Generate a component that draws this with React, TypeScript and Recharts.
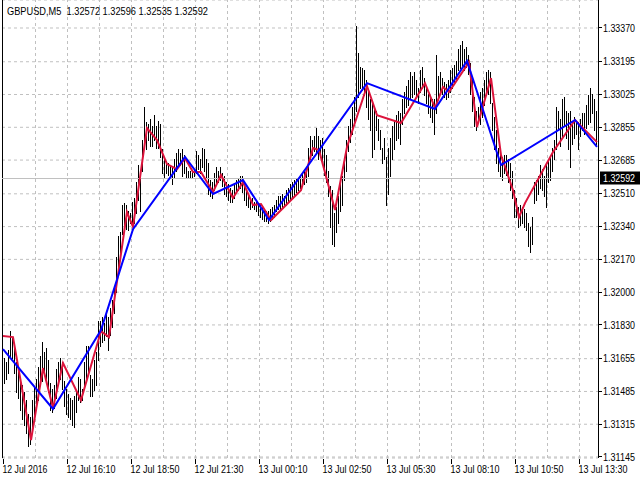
import React from 'react';
import { ComposedChart, Bar, Line, XAxis, YAxis, CartesianGrid, ReferenceLine } from 'recharts';

const symbolTitle = 'GBPUSD,M5';
const lastBarOHLC = ['1.32572', '1.32596', '1.32535', '1.32592'];
const bidPrice = 1.32592;

const barHigh = [
  1.3165, 1.3166, 1.3164, 1.317, 1.318, 1.3176, 1.3171, 1.3164, 1.3161, 1.3154,
  1.3152, 1.3148, 1.3144, 1.3137, 1.3135, 1.3144, 1.3151, 1.3155, 1.3161, 1.3167,
  1.3174, 1.3169, 1.3171, 1.3165, 1.3153, 1.315, 1.3152, 1.316, 1.3164, 1.3166,
  1.3164, 1.3154, 1.315, 1.3147, 1.3145, 1.3144, 1.3146, 1.3148, 1.3156, 1.3155,
  1.315, 1.3164, 1.3172, 1.3172, 1.3157, 1.3155, 1.3165, 1.3169, 1.3185, 1.3185,
  1.3187, 1.3184, 1.319, 1.3187, 1.3192, 1.3196, 1.3203, 1.3218, 1.3229, 1.3231,
  1.3245, 1.3246, 1.3245, 1.3242, 1.3241, 1.3247, 1.3249, 1.3257, 1.3266, 1.3262,
  1.3279, 1.3296, 1.3288, 1.3287, 1.329, 1.3286, 1.3292, 1.3286, 1.3289, 1.3287,
  1.3274, 1.3269, 1.3268, 1.3267, 1.3266, 1.3265, 1.3269, 1.3272, 1.3274, 1.3272,
  1.3274, 1.3271, 1.3265, 1.3263, 1.3263, 1.3263, 1.3264, 1.3273, 1.3271, 1.3269,
  1.3275, 1.3274, 1.3269, 1.3267, 1.3258, 1.3257, 1.3262, 1.3265, 1.3263, 1.3265,
  1.3262, 1.326, 1.3257, 1.3256, 1.3254, 1.3253, 1.3256, 1.3258, 1.3259, 1.326,
  1.326, 1.3256, 1.3253, 1.325, 1.3248, 1.3249, 1.3247, 1.3247, 1.3245, 1.3245,
  1.3244, 1.3243, 1.3242, 1.3242, 1.3243, 1.3244, 1.3245, 1.3248, 1.325, 1.325,
  1.3251, 1.325, 1.3253, 1.3254, 1.3256, 1.3257, 1.3258, 1.3259, 1.3258, 1.326,
  1.3262, 1.3263, 1.3265, 1.3275, 1.3281, 1.3279, 1.3281, 1.3285, 1.3281, 1.3279,
  1.328, 1.3274, 1.3271, 1.3263, 1.3255, 1.3253, 1.3241, 1.3244, 1.325, 1.3256,
  1.326, 1.327, 1.3279, 1.3286, 1.329, 1.3296, 1.3301, 1.3338, 1.3324, 1.3317,
  1.3316, 1.3315, 1.331, 1.3305, 1.33, 1.3298, 1.3296, 1.3294, 1.329, 1.3284,
  1.3275, 1.328, 1.327, 1.3275, 1.328, 1.3286, 1.3289, 1.3292, 1.3294, 1.3293,
  1.33, 1.3304, 1.3307, 1.331, 1.3314, 1.3312, 1.3314, 1.331, 1.3306, 1.3315,
  1.3317, 1.3311, 1.3307, 1.3303, 1.3301, 1.33, 1.33, 1.3323, 1.3312, 1.3314,
  1.3311, 1.3309, 1.3308, 1.331, 1.3315, 1.3316, 1.3318, 1.332, 1.3326, 1.3328,
  1.333, 1.3326, 1.3327, 1.3323, 1.3319, 1.331, 1.3301, 1.3294, 1.3296, 1.3304,
  1.3306, 1.331, 1.3314, 1.3315, 1.3314, 1.3298, 1.3291, 1.3284, 1.3275, 1.3273,
  1.327, 1.3271, 1.3271, 1.3269, 1.3267, 1.3263, 1.3253, 1.3249, 1.3244, 1.3245,
  1.3244, 1.3243, 1.3241, 1.3236, 1.3234, 1.3239, 1.3257, 1.3258, 1.326, 1.3266,
  1.3264, 1.326, 1.3267, 1.3269, 1.327, 1.3275, 1.3279, 1.3296, 1.3294, 1.329,
  1.33, 1.3301, 1.3294, 1.3293, 1.3294, 1.3289, 1.3291, 1.3289, 1.3288, 1.329,
  1.3293, 1.3293, 1.3297, 1.3302, 1.3306, 1.3303, 1.33, 1.3294,
];

const barLow = [
  1.3152, 1.3153, 1.3155, 1.3158, 1.3166, 1.3166, 1.3158, 1.3148, 1.3145, 1.3139,
  1.3134, 1.3131, 1.3127, 1.312, 1.3121, 1.3127, 1.3136, 1.3141, 1.3144, 1.3152,
  1.3154, 1.3158, 1.3155, 1.3148, 1.3139, 1.3138, 1.314, 1.3145, 1.3152, 1.3155,
  1.315, 1.3141, 1.3137, 1.3135, 1.3134, 1.3131, 1.313, 1.3138, 1.3144, 1.3143,
  1.3144, 1.3152, 1.3154, 1.3158, 1.3146, 1.3146, 1.3149, 1.3152, 1.3165, 1.3172,
  1.3174, 1.3175, 1.3177, 1.317, 1.3178, 1.3182, 1.3189, 1.32, 1.3213, 1.3218,
  1.323, 1.3231, 1.3233, 1.3232, 1.3236, 1.3236, 1.3236, 1.3241, 1.3248, 1.3242,
  1.3263, 1.3277, 1.3274, 1.3279, 1.3276, 1.3276, 1.3279, 1.3275, 1.3275, 1.327,
  1.3262, 1.3259, 1.3262, 1.3261, 1.326, 1.3256, 1.3259, 1.3263, 1.3265, 1.3266,
  1.326, 1.3262, 1.3259, 1.3259, 1.3259, 1.3259, 1.326, 1.3262, 1.3264, 1.3262,
  1.3265, 1.3263, 1.3259, 1.3251, 1.325, 1.3249, 1.3253, 1.3256, 1.3257, 1.3258,
  1.3255, 1.3251, 1.325, 1.3248, 1.3247, 1.3247, 1.3249, 1.3252, 1.3253, 1.3254,
  1.3252, 1.3248, 1.3245, 1.3244, 1.3243, 1.3244, 1.3243, 1.3242, 1.324, 1.3239,
  1.3238, 1.3237, 1.3237, 1.3236, 1.3237, 1.3238, 1.3239, 1.3242, 1.3243, 1.3243,
  1.3244, 1.3245, 1.3245, 1.3247, 1.3248, 1.3249, 1.325, 1.3252, 1.3253, 1.3254,
  1.3255, 1.3256, 1.3257, 1.326, 1.3269, 1.3271, 1.3273, 1.3272, 1.3269, 1.327,
  1.3267, 1.3261, 1.3257, 1.325, 1.3234, 1.3225, 1.3224, 1.3231, 1.3236, 1.3242,
  1.3245, 1.3258, 1.3263, 1.3273, 1.3278, 1.3282, 1.3288, 1.3294, 1.3301, 1.3306,
  1.3305, 1.3302, 1.3296, 1.329, 1.3284, 1.327, 1.3274, 1.3284, 1.3279, 1.3274,
  1.3267, 1.3269, 1.3245, 1.3251, 1.326, 1.3269, 1.3274, 1.3279, 1.328, 1.3277,
  1.3287, 1.3293, 1.3296, 1.3297, 1.33, 1.3301, 1.3303, 1.3301, 1.3298, 1.3304,
  1.3306, 1.3302, 1.3298, 1.3293, 1.3291, 1.3288, 1.3282, 1.3293, 1.3301, 1.3303,
  1.3303, 1.3301, 1.33, 1.3301, 1.3304, 1.3306, 1.3308, 1.331, 1.3315, 1.3316,
  1.3317, 1.3315, 1.3317, 1.3313, 1.3303, 1.3294, 1.3286, 1.3284, 1.3288, 1.3287,
  1.3291, 1.3297, 1.3302, 1.3303, 1.3298, 1.3284, 1.3274, 1.3267, 1.3263, 1.326,
  1.3258, 1.3262, 1.3261, 1.3257, 1.3253, 1.3249, 1.3239, 1.3239, 1.3234, 1.3235,
  1.3236, 1.3234, 1.3232, 1.3224, 1.3221, 1.3225, 1.3246, 1.3248, 1.3251, 1.3254,
  1.3253, 1.325, 1.3244, 1.3257, 1.3258, 1.3263, 1.3269, 1.3274, 1.3284, 1.3276,
  1.3281, 1.3286, 1.328, 1.3274, 1.3265, 1.3277, 1.328, 1.3282, 1.3274, 1.3281,
  1.3284, 1.3282, 1.3285, 1.3287, 1.3288, 1.3293, 1.3284, 1.3277,
];

const redLineIdx = [0, 5, 14, 20, 25, 30, 39, 49, 53, 62, 65, 72, 77, 82, 87, 91, 95, 99, 105, 109, 115, 120, 125, 129, 134, 149, 155, 158, 166, 172, 182, 187, 199, 211, 216, 220, 223, 233, 237, 244, 249, 255, 258, 261, 275, 286, 297];
const redLinePrice = [1.31772, 1.31767, 1.31233, 1.31606, 1.31399, 1.31632, 1.3144, 1.31798, 1.31767, 1.32415, 1.32338, 1.32851, 1.32789, 1.32664, 1.32638, 1.32695, 1.32623, 1.32623, 1.32519, 1.32607, 1.32488, 1.32571, 1.32452, 1.32457, 1.32374, 1.32529, 1.32747, 1.32737, 1.32426, 1.32753, 1.33069, 1.32918, 1.32877, 1.33084, 1.32955, 1.33064, 1.33038, 1.33193, 1.32856, 1.3311, 1.32711, 1.32529, 1.32389, 1.32462, 1.32727, 1.32893, 1.32778];

const blueLineIdx = [0, 25, 49, 65, 91, 105, 120, 133, 182, 216, 232, 249, 286, 297];
const blueLinePrice = [1.31705, 1.31394, 1.31803, 1.32327, 1.32701, 1.32509, 1.32581, 1.32374, 1.33084, 1.3295, 1.33199, 1.32659, 1.32893, 1.32754];

const priceTicks = [1.3337, 1.33195, 1.33025, 1.32855, 1.32685, 1.3251, 1.3234, 1.3217, 1.32, 1.3183, 1.31655, 1.31485, 1.31315, 1.31145];
const timeTickIdx = [0, 32, 64, 96, 128, 160, 192, 224, 256, 288];
const timeTickLabels = ['12 Jul 2016', '12 Jul 16:10', '12 Jul 18:50', '12 Jul 21:30', '13 Jul 00:10', '13 Jul 02:50', '13 Jul 05:30', '13 Jul 08:10', '13 Jul 10:50', '13 Jul 13:30'];
const gridTimeIdx = [16, 32, 48, 64, 80, 96, 112, 128, 144, 160, 176, 192, 208, 224, 240, 256, 272, 288];

type Row = { i: number; range: [number, number]; red?: number; blue?: number };
const chartData: Row[] = barHigh.map((h, i) => ({ i, range: [barLow[i], h] }));
redLineIdx.forEach((idx, k) => { chartData[idx].red = redLinePrice[k]; });
blueLineIdx.forEach((idx, k) => { chartData[idx].blue = blueLinePrice[k]; });

const FONT = "'Liberation Sans', Arial, sans-serif";
const GRID = '#C0C0C0';

const Stick = (props: any) => {
  const { x, y, width, height } = props;
  if (x == null || y == null) return null;
  const cx = Math.floor(x + width / 2) + 0.5;
  const top = Math.min(y, y + height);
  const bot = Math.max(y, y + height);
  return <line x1={cx} x2={cx} y1={top} y2={bot + 1} stroke="#000" strokeWidth={1} shapeRendering="crispEdges" />;
};

const PriceTick = (props: any) => {
  const { x, y, payload } = props;
  return (
    <g>
      <line x1={x} x2={x + 4} y1={y} y2={y} stroke="#000" shapeRendering="crispEdges" />
      <text x={x + 5} y={y} dy="0.36em" fontSize={10} fontFamily={FONT} fill="#000" textAnchor="start" textLength={32} lengthAdjust="spacingAndGlyphs">
        {Number(payload.value).toFixed(5)}
      </text>
    </g>
  );
};

const TimeTick = (props: any) => {
  const { x, y, payload } = props;
  const k = timeTickIdx.indexOf(payload.value);
  const label = k >= 0 ? timeTickLabels[k] : '';
  return (
    <g>
      <line x1={x} x2={x} y1={y + 1} y2={y + 6} stroke="#000" shapeRendering="crispEdges" />
      <text x={x - 0.5} y={y + 15} fontSize={11} fontFamily={FONT} fill="#000" textAnchor="start" textLength={label.length * 4.08} lengthAdjust="spacingAndGlyphs">
        {label}
      </text>
    </g>
  );
};

const BidLabel = (props: any) => {
  const vb = props.viewBox || {};
  const bx = vb.x + vb.width + 2;
  return (
    <g>
      <rect x={bx} y={vb.y - 6.5} width={42} height={13} fill="#000" />
      <text x={bx + 3} y={vb.y} dy="0.36em" fontSize={10} fontFamily={FONT} fill="#fff" textLength={32} lengthAdjust="spacingAndGlyphs">
        {bidPrice.toFixed(5)}
      </text>
    </g>
  );
};

export default function App() {
  return (
    <div style={{ position: 'absolute', left: 0, top: 0, width: 640, height: 480, background: '#fff', overflow: 'hidden' }}>
      <ComposedChart width={640} height={480} data={chartData} margin={{ top: 0, right: 0, bottom: 0, left: 2 }}>
        <CartesianGrid vertical={false} stroke={GRID} strokeDasharray="3 3" />
        {gridTimeIdx.map((g) => (
          <ReferenceLine key={g} x={g} stroke={GRID} strokeDasharray="3 3" shapeRendering="crispEdges" />
        ))}
        <ReferenceLine x={-0.5} stroke="#000" shapeRendering="crispEdges" />
        <ReferenceLine y={bidPrice} stroke={GRID} shapeRendering="crispEdges" label={<BidLabel />} />
        <XAxis
          dataKey="i"
          type="number"
          domain={[-0.5, 297.5]}
          ticks={timeTickIdx}
          interval={0}
          axisLine={false}
          tickLine={false}
          tickSize={0}
          tickMargin={0}
          height={22}
          allowDataOverflow
          tick={<TimeTick />}
        />
        <YAxis
          orientation="right"
          type="number"
          domain={[1.311398, 1.335152]}
          ticks={priceTicks}
          interval={0}
          width={42}
          axisLine={{ stroke: '#000', shapeRendering: 'crispEdges' }}
          tickLine={false}
          tickSize={0}
          tickMargin={0}
          allowDataOverflow
          tick={<PriceTick />}
        />
        <Bar dataKey="range" barSize={1} shape={<Stick />} isAnimationActive={false} />
        <Line dataKey="red" type="linear" stroke="#DC143C" strokeWidth={2} dot={false} activeDot={false} connectNulls isAnimationActive={false} />
        <Line dataKey="blue" type="linear" stroke="#0000FF" strokeWidth={2} dot={false} activeDot={false} connectNulls isAnimationActive={false} />
      </ComposedChart>
      <svg width={640} height={20} style={{ position: 'absolute', left: 0, top: 0, pointerEvents: 'none' }}>
        <text x={7} y={15} fontSize={11} fontFamily={FONT} fill="#000" textLength={201} lengthAdjust="spacingAndGlyphs" xmlSpace="preserve">
          {symbolTitle + '  ' + lastBarOHLC.join(' ')}
        </text>
      </svg>
    </div>
  );
}
